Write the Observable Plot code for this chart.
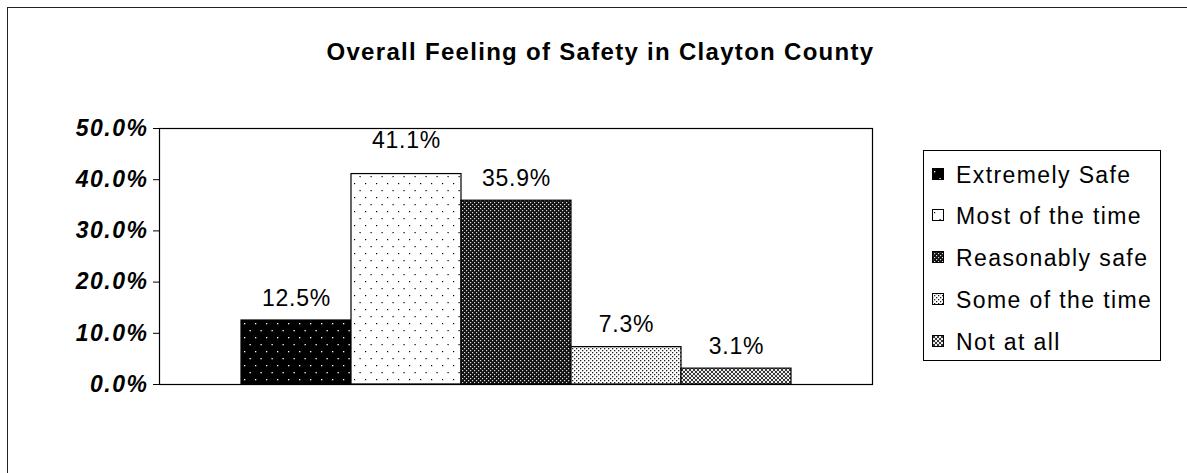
<!DOCTYPE html>
<html>
<head>
<meta charset="utf-8">
<script src="https://cdn.jsdelivr.net/npm/d3@7"></script>
<script src="https://cdn.jsdelivr.net/npm/@observablehq/plot@0.6"></script>
<style>
  html, body { margin: 0; padding: 0; background: #fff; }
  #wrap { position: relative; width: 1187px; height: 473px; overflow: hidden; background: #fff; font-family: "Liberation Sans", Arial, sans-serif; color: #000; }
  #outer { position: absolute; left: 7px; top: 7px; width: 1185px; height: 480px; border: 1.5px solid #222; box-sizing: border-box; }
  #title { position: absolute; left: 0; top: 38px; width: 1201px; text-align: center; font-size: 24px; font-weight: bold; line-height: 27px; letter-spacing: 1.3px; }
  #chart { position: absolute; left: 0; top: 96px; }
  #chart svg { color: #000; }
  #chart g[aria-label="y-axis tick label"] text { letter-spacing: 1.5px; }
  #chart g[aria-label="text"] text { letter-spacing: 0.8px; }
  #legend { position: absolute; left: 923px; top: 150px; width: 238px; height: 211px; border: 1.2px solid #000; box-sizing: border-box; padding-top: 2.5px; background: #fff; }
  .item { position: relative; height: 41.75px; line-height: 42px; font-size: 23px; letter-spacing: 1.4px; padding-left: 32px; white-space: nowrap; }
  .item svg { position: absolute; left: 8px; top: 14px; }
</style>
</head>
<body>
<svg width="0" height="0" style="position:absolute">
  <defs>
    <pattern id="p-es" patternUnits="userSpaceOnUse" width="11" height="14">
      <rect width="11" height="14" fill="#000"/>
      <rect x="2" y="3" width="1.3" height="1.3" fill="#fff"/>
      <rect x="7.5" y="10" width="1.3" height="1.3" fill="#fff"/>
    </pattern>
    <pattern id="p-mt" patternUnits="userSpaceOnUse" width="11" height="14">
      <rect width="11" height="14" fill="#fff"/>
      <rect x="2" y="3" width="1.2" height="1.2" fill="#000"/>
      <rect x="7.5" y="10" width="1.2" height="1.2" fill="#000"/>
    </pattern>
    <pattern id="p-rs" patternUnits="userSpaceOnUse" width="4" height="4">
      <rect width="4" height="4" fill="#111"/>
      <rect x="0" y="0" width="1.2" height="1.2" fill="#ddd"/>
      <rect x="2" y="2" width="1.2" height="1.2" fill="#ddd"/>
    </pattern>
    <pattern id="p-st" patternUnits="userSpaceOnUse" width="4" height="4">
      <rect width="4" height="4" fill="#fff"/>
      <rect x="0" y="0" width="1.3" height="1.3" fill="#222"/>
      <rect x="2" y="2" width="1.3" height="1.3" fill="#222"/>
    </pattern>
    <pattern id="p-na" patternUnits="userSpaceOnUse" width="4" height="4">
      <rect width="4" height="4" fill="#eee"/>
      <path d="M0,0 L4,4 M4,0 L0,4" stroke="#222" stroke-width="0.9"/>
    </pattern>
  </defs>
</svg>
<div id="wrap">
  <div id="outer"></div>
  <div id="title"></div>
  <div id="chart"></div>
  <div id="legend"></div>
</div>
<script>
// ---- data ----
const chartTitle = "Overall Feeling of Safety in Clayton County";
const categories = ["Extremely Safe", "Most of the time", "Reasonably safe", "Some of the time", "Not at all"];
const values = [12.5, 41.1, 35.9, 7.3, 3.1];
const yTicks = [0, 10, 20, 30, 40, 50];
const patterns = ["p-es", "p-mt", "p-rs", "p-st", "p-na"];

const data = categories.map((c, i) => ({ cat: c, value: values[i] }));
const patternOf = new Map(categories.map((c, i) => [c, `url(#${patterns[i]})`]));
const fmt = d => d.toFixed(1) + "%";

document.getElementById("title").textContent = chartTitle;

const plot = Plot.plot({
  width: 1187,
  height: 320,
  marginLeft: 159,
  marginRight: 315,
  marginTop: 32,
  marginBottom: 32,
  style: { fontFamily: "'Liberation Sans', Arial, sans-serif", color: "#000", background: "transparent" },
  x: { type: "band", domain: categories, padding: 0, insetLeft: 82, insetRight: 81, axis: null },
  y: { domain: [0, 50] },
  color: { type: "identity" },
  marks: [
    Plot.barY(data, { x: "cat", y: "value", fill: d => patternOf.get(d.cat), stroke: "#000", strokeWidth: 1.2 }),
    Plot.text(data.filter(d => d.value < 40), { x: "cat", y: "value", text: d => fmt(d.value), lineAnchor: "bottom", dy: -15, fontSize: 23, fill: "#000" }),
    Plot.text(data.filter(d => d.value >= 40), { x: "cat", y: "value", text: d => fmt(d.value), lineAnchor: "bottom", dy: -26, fontSize: 23, fill: "#000" }),
    Plot.axisY({ ticks: yTicks, tickFormat: fmt, tickSize: 6, tickPadding: 5, label: null, fontSize: 23, fontWeight: "bold", fontStyle: "italic", stroke: "#000", fill: "#000" }),
    Plot.frame({ stroke: "#000", strokeWidth: 1.2 })
  ]
});
document.getElementById("chart").appendChild(plot);

// ---- legend ----
const legend = document.getElementById("legend");
categories.forEach((c, i) => {
  const row = document.createElement("div");
  row.className = "item";
  row.innerHTML = `<svg width="12" height="12"><rect x="0.5" y="0.5" width="11" height="11" fill="url(#${patterns[i]})" stroke="#000" stroke-width="1"/></svg>`;
  row.appendChild(document.createTextNode(c));
  legend.appendChild(row);
});
</script>
</body>
</html>
